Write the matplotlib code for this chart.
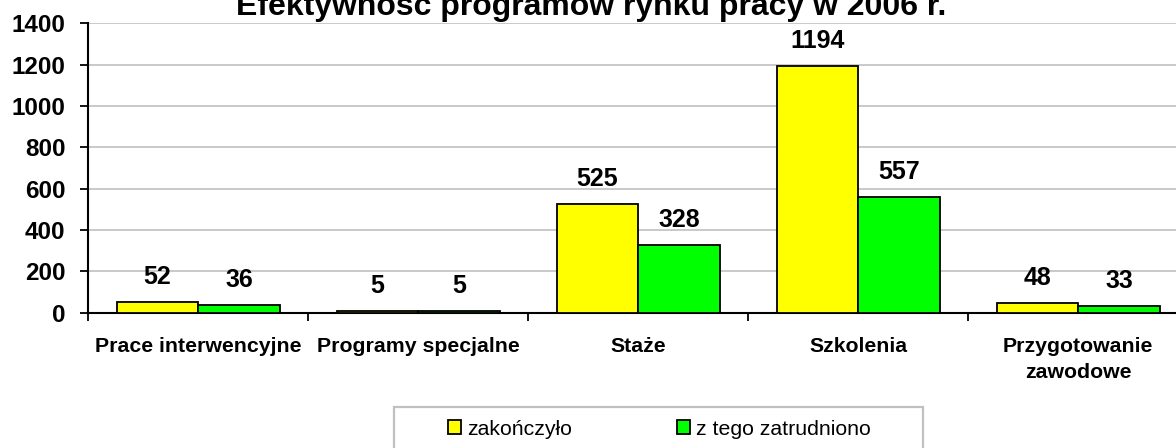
import matplotlib
matplotlib.use("Agg")
import matplotlib.pyplot as plt
from matplotlib.patches import Rectangle
import numpy as np

plt.rcParams['font.family'] = ['Liberation Sans', 'DejaVu Sans']

# Data
categories = ["Prace interwencyjne", "Programy specjalne", "Staże", "Szkolenia",
              "Przygotowanie\nzawodowe"]
zakonczylo = [52, 5, 525, 1194, 48]
zatrudniono = [36, 5, 328, 557, 33]
series_names = ["zakończyło", "z tego zatrudniono"]
title = "Efektywność programów rynku pracy w 2006 r."
yticks = [0, 200, 400, 600, 800, 1000, 1200, 1400]

W, H, DPI = 1176, 448, 100
fig = plt.figure(figsize=(W / DPI, H / DPI), dpi=DPI, facecolor="white")

# plot area (extends past the right edge of the canvas)
left_px, right_px = 88.3, 1188.3
bottom_px, top_px = 312.5, 23.3
ax = fig.add_axes([left_px / W, 1 - bottom_px / H,
                   (right_px - left_px) / W, (bottom_px - top_px) / H])

x = np.arange(len(categories))
bw = 0.37
b1 = ax.bar(x - bw / 2, zakonczylo, bw, color="#FFFF00", edgecolor="black",
            linewidth=1.3, label=series_names[0], zorder=3)
b2 = ax.bar(x + bw / 2, zatrudniono, bw, color="#00FF00", edgecolor="black",
            linewidth=1.3, label=series_names[1], zorder=3)

for bars, vals in ((b1, zakonczylo), (b2, zatrudniono)):
    for rect, v in zip(bars, vals):
        ax.annotate(f"{v}", (rect.get_x() + rect.get_width() / 2, v),
                    xytext=(0, 13), textcoords="offset points",
                    ha="center", va="baseline", fontsize=18, fontweight="bold")

ax.set_xlim(-0.5, len(categories) - 0.5)
ax.set_ylim(0, 1400)
ax.set_yticks(yticks)
ax.set_yticklabels([str(t) for t in yticks], fontsize=17.5, fontweight="bold")
ax.yaxis.grid(True, color="#C0C0C0", linewidth=1.2, zorder=0)
ax.set_axisbelow(True)

ax.set_xticks(x)
ax.set_xticklabels(categories, fontsize=15.3, fontweight="bold", linespacing=1.45)
ax.set_xticks(np.arange(-0.5, len(categories)), minor=True)
ax.tick_params(axis="x", which="major", length=0, pad=17.5)
ax.tick_params(axis="x", which="minor", length=6, width=1.3, direction="out")
ax.tick_params(axis="y", length=6, width=1.3, direction="out", pad=10.5)

for s in ("top", "right"):
    ax.spines[s].set_visible(False)
for s in ("left", "bottom"):
    ax.spines[s].set_linewidth(1.5)
    ax.spines[s].set_color("black")

# title (upper part runs off the canvas)
fig.text(591.5 / W, 1 - 15 / H, title, ha="center", va="baseline",
         fontsize=23, fontweight="bold")

# legend box
fig.add_artist(Rectangle((394 / W, 1 - 460 / H), (923 - 394) / W, (460 - 407.3) / H,
                         transform=fig.transFigure, facecolor="white",
                         edgecolor="#C0C0C0", linewidth=1.6, zorder=1))
leg = fig.legend(handles=[b1, b2], labels=series_names, loc="center left",
                 bbox_to_anchor=(447.7 / W, 1 - 429 / H), ncol=2, frameon=False,
                 fontsize=15.3, handlelength=0.62, handleheight=0.62,
                 handletextpad=0.28, columnspacing=4.95, borderpad=0,
                 borderaxespad=0)
leg.set_zorder(2)

fig.savefig("out.png", dpi=DPI, facecolor="white")
